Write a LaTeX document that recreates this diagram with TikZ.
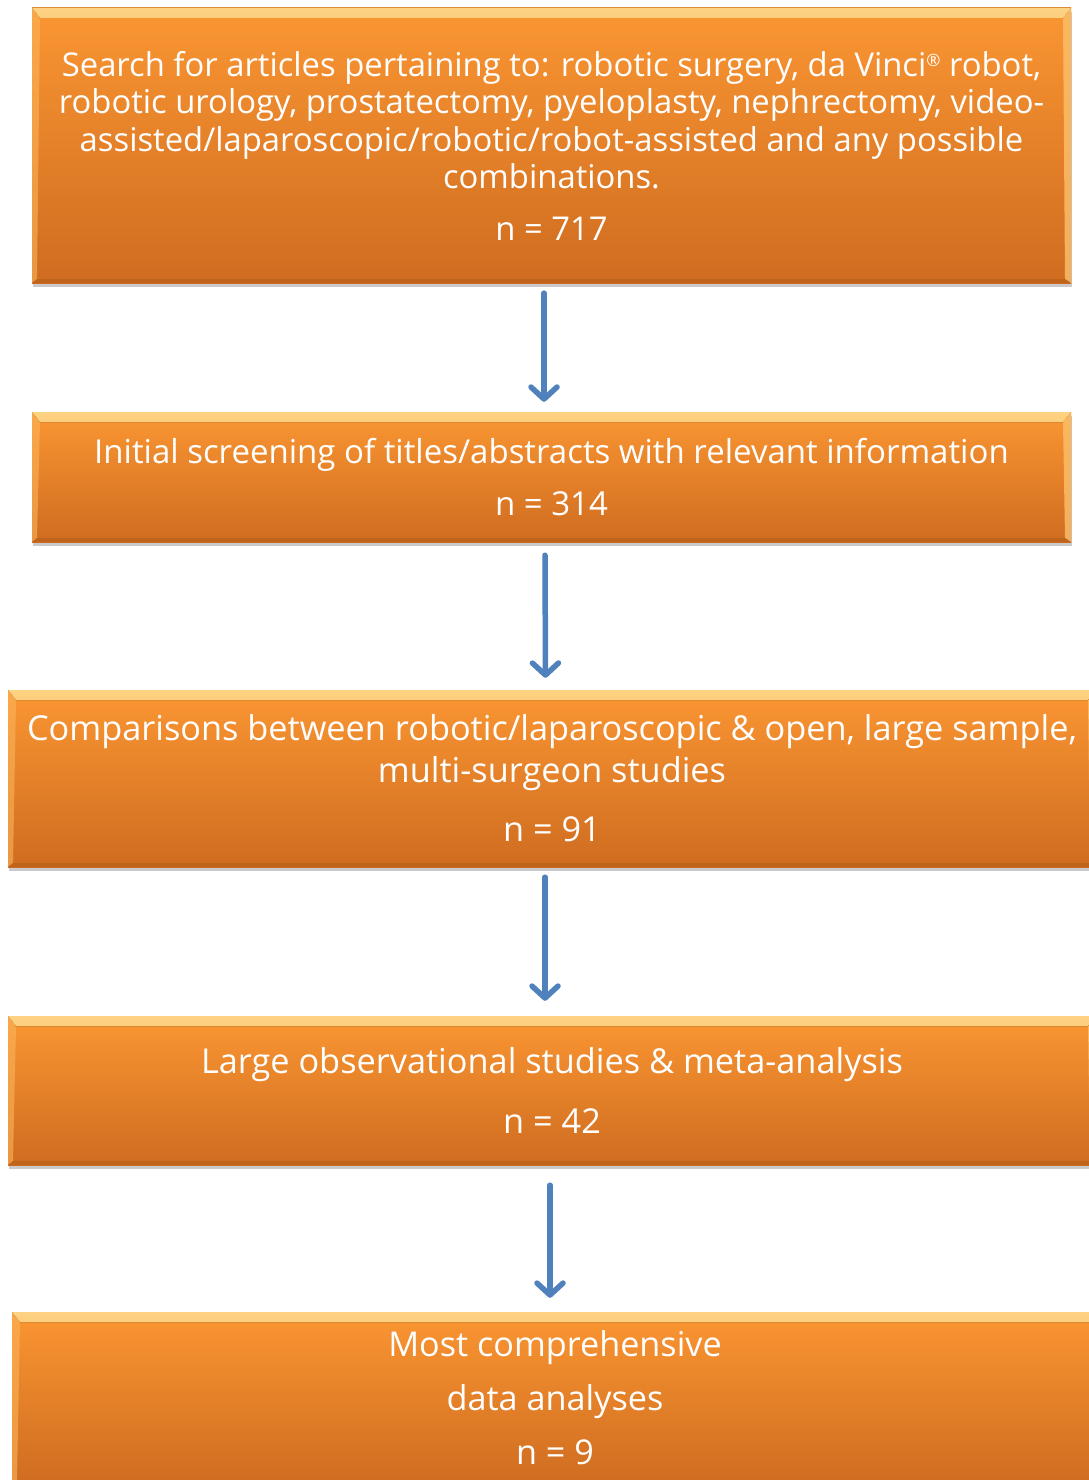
\documentclass[tikz,border=0pt]{standalone}
\usepackage{fontspec}
\setmainfont{Open Sans}
\usetikzlibrary{arrows.meta,shadows}
\definecolor{boxtop}{RGB}{250,150,50}
\definecolor{boxbot}{RGB}{207,108,32}
\definecolor{bevlight}{RGB}{253,210,130}
\definecolor{arrblue}{RGB}{79,129,189}
\tikzset{
  flowbox/.style={rectangle, inner sep=0pt, top color=boxtop, bottom color=boxbot,
    text=white, align=center,
    drop shadow={shadow xshift=1pt, shadow yshift=-4pt, opacity=0.35, fill=black!60},
    path picture={
      \fill[top color=bevlight, bottom color=boxtop]
        (path picture bounding box.north west) -- (path picture bounding box.north east)
        -- ([xshift=-8pt,yshift=-10pt]path picture bounding box.north east)
        -- ([xshift=8pt,yshift=-10pt]path picture bounding box.north west) -- cycle;
      \fill[bevlight!70!boxtop, opacity=0.8]
        (path picture bounding box.north east) -- (path picture bounding box.south east)
        -- ([xshift=-6pt,yshift=4pt]path picture bounding box.south east)
        -- ([xshift=-8pt,yshift=-10pt]path picture bounding box.north east) -- cycle;
      \fill[bevlight!50!boxtop, opacity=0.6]
        (path picture bounding box.north west) -- (path picture bounding box.south west)
        -- ([xshift=5pt,yshift=4pt]path picture bounding box.south west)
        -- ([xshift=8pt,yshift=-10pt]path picture bounding box.north west) -- cycle;
      \fill[boxbot!85!black, opacity=0.5]
        (path picture bounding box.south west) -- (path picture bounding box.south east)
        -- ([xshift=-6pt,yshift=4pt]path picture bounding box.south east)
        -- ([xshift=5pt,yshift=4pt]path picture bounding box.south west) -- cycle;
    }},
  flowarrow/.style={draw=arrblue, line width=5.5pt, line cap=round,
    -{Straight Barb[length=12pt,width=26pt,line width=5.5pt,round]}},
  fA/.style={font=\fontsize{32.8}{37.5}\selectfont},
  fB/.style={font=\fontsize{33}{37}\selectfont},
  fC/.style={font=\fontsize{34.3}{42}\selectfont},
  fD/.style={font=\fontsize{34.2}{54}\selectfont}
}
\begin{document}
\begin{tikzpicture}[x=1pt,y=-1pt]
\useasboundingbox (0,0) rectangle (1089,1480);
\begin{scope}
\clip (0,0) rectangle (1089,1480);
\node[flowbox, fA, minimum width=1039pt, minimum height=275pt] (b1) at (551.5,145.5)
  {Search for articles pertaining to: robotic surgery, da Vinci\raisebox{0.55ex}{\fontsize{17}{17}\selectfont ®} robot,\\
   robotic urology, prostatectomy, pyeloplasty, nephrectomy, video-\\
   assisted/laparoscopic/robotic/robot-assisted and any possible\\
   combinations.\\[14pt]
   n = 717};
\node[flowbox, fB, minimum width=1039pt, minimum height=130pt] (b2) at (551.5,477)
  {Initial screening of titles/abstracts with relevant information\\[15pt]
   n = 314};
\node[flowbox, fC, minimum width=1088pt, minimum height=177pt] (b3) at (552,778.5)
  {Comparisons between robotic/laparoscopic \& open, large sample,\\
   multi-surgeon studies\\[17pt]
   n = 91};
\node[flowbox, fC, minimum width=1088pt, minimum height=149pt] (b4) at (552,1090.5)
  {Large observational studies \& meta-analysis\\[18pt]
   n = 42};
\node[flowbox, fD, minimum width=1086pt, minimum height=172pt] (b5) at (555,1398)
  {Most comprehensive\\
   data analyses\\
   n = 9};
\end{scope}
\draw[flowarrow] ([xshift=-7.5pt,yshift=-10pt]b1.south) -- ([xshift=-7.5pt,yshift=10pt]b2.north);
\draw[flowarrow] ([xshift=-6.5pt,yshift=-13pt]b2.south) -- ([xshift=-6.5pt,yshift=12pt]b3.north);
\draw[flowarrow] ([xshift=-7pt,yshift=-10pt]b3.south) -- ([xshift=-7pt,yshift=15pt]b4.north);
\draw[flowarrow] ([xshift=-2pt,yshift=-20pt]b4.south) -- ([xshift=-5pt,yshift=14pt]b5.north);
\end{tikzpicture}
\end{document}
